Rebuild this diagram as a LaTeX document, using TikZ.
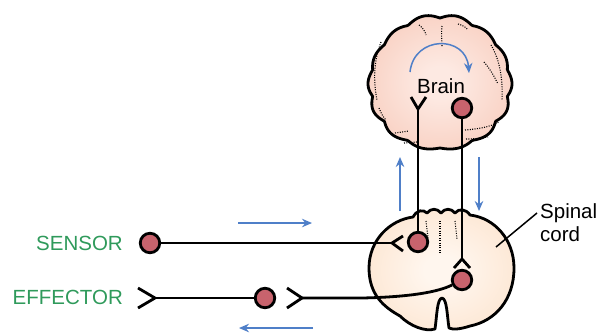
\documentclass[tikz,border=0pt]{standalone}
\usepackage{fontspec}
\setmainfont{Liberation Sans}
\usetikzlibrary{arrows.meta}
\definecolor{cellred}{HTML}{C8636D}
\definecolor{flowblue}{HTML}{4F7FC8}
\definecolor{labelgreen}{HTML}{2F9A5B}
\definecolor{brainin}{HTML}{FDE9E2}
\definecolor{brainout}{HTML}{F5BCA8}
\definecolor{cordin}{HTML}{FFF6EE}
\definecolor{cordout}{HTML}{FBDABD}
% radial fills that reach the outer colour at the rim of the shape
\pgfdeclareradialshading[brainin,brainout]{brainfill}{\pgfpoint{0bp}{0bp}}%
  {color(0bp)=(brainin); color(6bp)=(brainin); color(46bp)=(brainout); color(60bp)=(brainout)}
\pgfdeclareradialshading[cordin,cordout]{cordfill}{\pgfpoint{0bp}{0bp}}%
  {color(0bp)=(cordin); color(6bp)=(cordin); color(46bp)=(cordout); color(60bp)=(cordout)}
\begin{document}
\begin{tikzpicture}[x=1pt,y=-1pt,
  soma/.style={circle,draw=black,line width=2.8pt,fill=cellred,minimum size=19.5pt,inner sep=0pt},
  fiber/.style={line width=2.8pt,black,line join=miter},
  flow/.style={flowblue,line width=1.5pt,-{Stealth[length=10pt,width=8.5pt]}},
  lbl/.style={font=\fontsize{20.5}{23}\selectfont,inner sep=0pt},
  sulcus/.style={dash pattern=on 1pt off 1.4pt,line width=1.1pt},
  outline/.style={line width=2.8pt,line join=round}]
\useasboundingbox (0,0) rectangle (602,333);

% ---- brain: lumpy outline, pink radial fill ----
\shadedraw[outline,shading=brainfill]
  plot[domain=0:360,samples=241,variable=\t]
  ({440+72*cos(\t)*(0.955+0.045*(1+0.3*sin(3*\t))*abs(cos(7*\t+18*sin(2*\t))))},
   {83+68*sin(\t)*(0.955+0.045*(1+0.3*sin(3*\t))*abs(cos(7*\t+18*sin(2*\t))))}) -- cycle;
% sulci
\draw[sulcus] (442,26) .. controls (441,34) and (442,40) .. (442,47);
\draw[sulcus] (419,25) .. controls (423,28) and (425,31) .. (426,35);
\draw[sulcus] (458,24) .. controls (462,25) and (466,27) .. (468,30);
\draw[sulcus] (381,42) .. controls (374,60) and (373,80) .. (377,100);
\draw[sulcus] (379,108) .. controls (381,113) and (383,117) .. (386,120);
\draw[sulcus] (491,45) .. controls (500,60) and (503,80) .. (502,100);
\draw[sulcus] (484,62) .. controls (491,70) and (495,78) .. (498,84);
\draw[sulcus] (395,133) -- (409,131);
\draw[sulcus] (404,143) -- (417,142);
\draw[sulcus] (465,130) .. controls (478,129) and (490,127) .. (499,122);
\draw[sulcus] (466,139) .. controls (475,139) and (482,138) .. (488,137);

% ---- spinal cord cross-section ----
\shadedraw[outline,shading=cordfill]
  (413,217) .. controls (417,210) and (423,209) .. (427,213)
  .. controls (431,208) and (437,208) .. (441,213)
  .. controls (445,208) and (451,208) .. (455,213)
  .. controls (459,208) and (466,209) .. (470,215)
  .. controls (495,218) and (514,240) .. (514,268)
  .. controls (514,300) and (495,321) .. (470,326)
  .. controls (461,329) and (453,330) .. (449,328)
  .. controls (447,315) and (447,299) .. (442,298)
  .. controls (437,299) and (437,315) .. (435,329)
  .. controls (425,332) and (410,326) .. (400,316)
  .. controls (384,307) and (369,295) .. (369,268)
  .. controls (369,240) and (390,220) .. (413,217) -- cycle;
\draw[sulcus] (426,221) -- (428,238);
\draw[sulcus] (440,221) -- (440,254);
\draw[sulcus] (455,221) -- (457,239);

% ---- cell bodies ----
\node[soma] (sensor)  at (150,243) {};
\node[soma] (effcell) at (265,298) {};
\node[soma] (upper)   at (462,108) {};
\node[soma] (relay)   at (418,242) {};
\node[soma] (motor)   at (462,280) {};

% ---- fibre endings ----
\coordinate (brainY)  at (418,109);
\coordinate (cordsyn) at (392,243);
\coordinate (cordLam) at (462,259);
\coordinate (effend)  at (155,298);
\coordinate (effsyn)  at (302,298);
\coordinate (bend)    at (362,298);

% ---- fibres ----
\draw[fiber] (sensor) -- (cordsyn);
\draw[fiber] (cordsyn) ++(11,-7) -- (cordsyn) -- ++(11,8);
\draw[fiber] (relay) -- (brainY);
\draw[fiber] (brainY) ++(-7,-12) -- (brainY) -- ++(8,-12);
\draw[fiber] (upper) -- (cordLam);
\draw[fiber] (cordLam) ++(-8,9) -- (cordLam) -- ++(8,9);
\draw[fiber,line width=2.3pt] (effcell) -- (effend);
\draw[fiber] (effend) ++(-17,-10) -- (effend) -- ++(-17,10);
\draw[fiber] (effsyn) ++(-15,-10) -- (effsyn) -- ++(-15,10);
\draw[fiber] (effsyn) -- (bend) .. controls (410,297) and (438,292) .. (motor);

% ---- signal direction arrows ----
\draw[flow] (410,72) .. controls (414,35) and (466,35) .. (469,73);
\draw[flow] (400,211) -- (400,157);
\draw[flow] (479,157) -- (479,211);
\draw[flow] (238,223) -- (312,223);
\draw[flow] (313,328) -- (239,328);

% ---- labels ----
\node[lbl,anchor=base] (brainlbl) at (441,93) {Brain};
\node[lbl,text=labelgreen,anchor=base east] (sensorlbl) at (123,250.5) {SENSOR};
\node[lbl,text=labelgreen,anchor=base east] (effectorlbl) at (123,304) {EFFECTOR};
\node[lbl,align=left,anchor=north west] (cordlbl) at (540,203) {Spinal\\cord};
\coordinate (leadend) at (496,247);
\draw[line width=1.5pt] (cordlbl.north west) ++(-3,10) -- (leadend);
\end{tikzpicture}
\end{document}
